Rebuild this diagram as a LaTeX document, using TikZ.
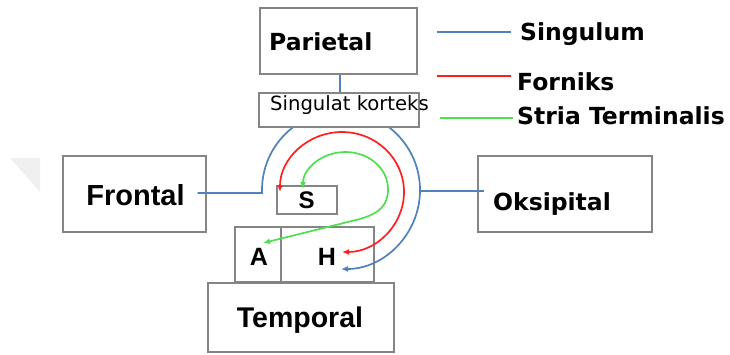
\documentclass[tikz,border=0pt]{standalone}
\usepackage{fontspec}
\setmainfont{DejaVu Sans}
\newfontfamily\arialfont{Liberation Sans}
\usetikzlibrary{arrows.meta}
\definecolor{sblue}{HTML}{4F81BD}
\definecolor{fred}{HTML}{FF1F1F}
\definecolor{sgreen}{HTML}{4CE04C}
\definecolor{boxgray}{HTML}{858585}
\definecolor{wmgray}{HTML}{F0F0F0}
\begin{document}
\begin{tikzpicture}[x=1pt,y=-1pt,
  box/.style={draw=boxgray, line width=1.1pt, inner sep=0pt},
  tahb/.style={font=\bfseries\fontsize{23.5}{28}\selectfont, inner sep=0pt},
  tahr/.style={font=\fontsize{19.6}{23}\selectfont, inner sep=0pt},
  arb/.style={font=\arialfont\bfseries\fontsize{29}{34}\selectfont, inner sep=0pt},
  arbs/.style={font=\arialfont\bfseries\fontsize{24}{28}\selectfont, inner sep=0pt},
  tract/.style={line width=1.7pt},
  legline/.style={line width=2pt},
  >={Latex[length=7pt,width=6pt]}]
\useasboundingbox (0,0) rectangle (730,354);
% faint watermark triangle
\fill[wmgray] (10,158) -- (40,158) -- (40,192) -- cycle;
% boxes
\node[box, minimum width=157pt, minimum height=66pt] (parietal) at (338.5,41) {};
\node[box, minimum width=143pt, minimum height=76pt] (frontal) at (134.5,194) {};
\node[box, minimum width=174pt, minimum height=76pt] (oksipital) at (565,194) {};
\node[box, minimum width=60pt, minimum height=28pt] (sbox) at (307,200) {};
\node[box, minimum width=46pt, minimum height=55pt] (abox) at (258,254.5) {};
\node[box, minimum width=93pt, minimum height=55pt] (hbox) at (327.5,254.5) {};
\node[box, minimum width=186pt, minimum height=69pt] (temporal) at (301,317.5) {};
% labels in boxes
\node[tahb, anchor=base west] (parietaltext) at (269,50.5) {Parietal};
\node[arb, anchor=base] (frontaltext) at (135.5,205.4) {Frontal};
\node[tahb, anchor=base west] (oksipitaltext) at (493,210) {Oksipital};
\node[arbs, anchor=base] (stext) at (306.5,208) {S};
\node[arbs, font=\arialfont\bfseries\fontsize{25}{30}\selectfont, anchor=base] (atext) at (259,265) {A};
\node[arbs, font=\arialfont\bfseries\fontsize{25}{30}\selectfont, anchor=base] (htext) at (327,265) {H};
\node[arb, font=\arialfont\bfseries\fontsize{28.5}{34}\selectfont, anchor=base] (temporaltext) at (300,327) {Temporal};
% tracts
\coordinate (fjoin) at (262,193);
\coordinate (ojoin) at (420,191);
\draw[sblue, tract, ->] ([xshift=-9pt]frontal.east |- fjoin) -- (fjoin) -- (262,190)
  arc[start angle=180, end angle=450, radius=79];
\draw[sblue, tract] (ojoin) -- ([xshift=7pt]oksipital.west |- ojoin);
\draw[fred, tract, <->] (280,192) arc[start angle=180, end angle=450, x radius=62, y radius=60];
\draw[sgreen, tract, <->] (303,189) arc[start angle=180, end angle=360, x radius=42.5, y radius=37]
  .. controls (388,205) and (380,213) .. (360,219) -- (263,243);
% singulat korteks box on top
\node[box, fill=white, minimum width=160pt, minimum height=34pt] (singulat) at (339,110) {};
\node[tahr, anchor=base west] (singulattext) at (270,110) {Singulat korteks};
\draw[sblue, tract] ([xshift=1.5pt]parietal.south) -- ([xshift=1pt]singulat.north);
% legend
\coordinate (l1a) at (437,32); \coordinate (l1b) at (511,32);
\coordinate (l2a) at (437,76); \coordinate (l2b) at (511,76);
\coordinate (l3a) at (440,118); \coordinate (l3b) at (513,118);
\draw[sblue, legline] (l1a) -- (l1b);
\draw[fred, legline] (l2a) -- (l2b);
\draw[sgreen, legline] (l3a) -- (l3b);
\node[tahb, anchor=base west] (lsing) at (520,40) {Singulum};
\node[tahb, anchor=base west] (lforn) at (517,90) {Forniks};
\node[tahb, anchor=base west] (lstria) at (517,124) {Stria Terminalis};
\end{tikzpicture}
\end{document}
